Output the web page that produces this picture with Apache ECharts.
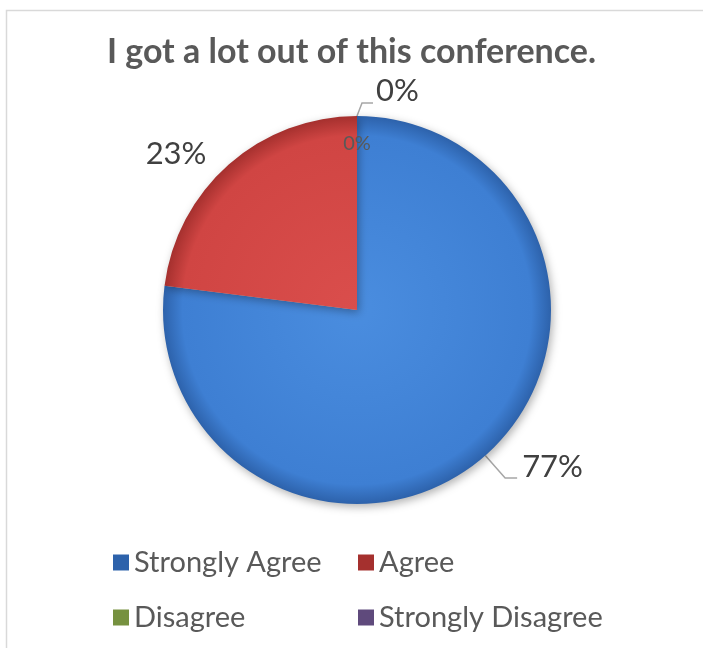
<!DOCTYPE html>
<html>
<head>
<meta charset="utf-8">
<script src="https://cdn.jsdelivr.net/npm/echarts@6/dist/echarts.min.js"></script>
<style>
  html, body { margin: 0; padding: 0; background: #fff; }
  #pie { width: 703px; height: 648px; }
</style>
</head>
<body>
<div id="pie"></div>
<script>
 // 饼图数据
 var categories = ['Strongly Agree', 'Agree', 'Disagree', 'Strongly Disagree'];
 var values = [77, 23, 0, 0];
 var colors = [
     ['#4a8ddf', '#3e7fd3', '#2d62ab'],
     ['#da4e4c', '#d04543', '#a5302e'],
     ['#a9cb62', '#9bbb59', '#76913f'],
     ['#8f72b3', '#8064a2', '#5f4a7c']
 ];

 var txt = '#595959';
 var font = 'Lato, "Open Sans", sans-serif';
 var cx = 357, cy = 310, R = 194;

 // 每个扇区的标签设置
 var labelCfg = [
     { label: {}, labelLine: { length: 30, length2: 12 } },
     { label: {}, labelLine: { show: false, length: 14, length2: 8 } },
     { label: {}, labelLine: { length: 13, length2: 10 } },
     { label: { position: 'inside', fontSize: 20, color: txt }, labelLine: { show: false } }
 ];

 var pieData = categories.map(function (name, i) {
     return {
         name: name,
         value: values[i],
         itemStyle: {
             color: {
                 type: 'radial', x: cx, y: cy, r: R, global: true,
                 colorStops: [
                     { offset: 0, color: colors[i][0] },
                     { offset: 0.9, color: colors[i][1] },
                     { offset: 1, color: colors[i][2] }
                 ]
             }
         },
         label: labelCfg[i].label,
         labelLine: labelCfg[i].labelLine
     };
 });

 var legendStyle = { fontFamily: font, fontSize: 29, color: txt };

 var myChart = echarts.init(document.getElementById('pie'));
 option = {
     backgroundColor: '#fff',
     title: {
         text: 'I got a lot out of this conference.',
         left: 'center',
         top: 30,
         textStyle: { fontFamily: font, fontSize: 34, fontWeight: 'bold', color: txt }
     },
     graphic: [{
         type: 'rect',
         shape: { x: 6.5, y: 10.5, width: 720, height: 660 },
         style: { fill: 'none', stroke: '#d9d9d9', lineWidth: 1.5 }
     }],
     legend: [{
         orient: 'vertical',
         left: 108,
         top: 543,
         icon: 'rect',
         itemWidth: 16,
         itemHeight: 16,
         itemGap: 26,
         data: [categories[0], categories[2]],
         textStyle: legendStyle
     }, {
         orient: 'vertical',
         left: 353,
         top: 543,
         icon: 'rect',
         itemWidth: 16,
         itemHeight: 16,
         itemGap: 26,
         data: [categories[1], categories[3]],
         textStyle: legendStyle
     }],
     series: [{
         type: 'pie',
         center: [cx, cy],
         radius: R,
         startAngle: 90,
         clockwise: true,
         avoidLabelOverlap: false,
         percentPrecision: 0,
         legendHoverLink: false,
         label: {
             show: true,
             formatter: '{d}%',
             fontFamily: font,
             fontSize: 31,
             color: '#404040'
         },
         labelLine: {
             lineStyle: { color: '#a6a6a6', width: 1.5 }
         },
         itemStyle: {
             shadowBlur: 8,
             shadowColor: 'rgba(0,0,0,0.3)',
             shadowOffsetX: 2,
             shadowOffsetY: 3
         },
         labelLayout: function (p) {
             var pts = p.labelLinePoints;
             if (p.dataIndex === 0) {
                 return { dy: -11 };
             }
             if (p.dataIndex === 2 && pts) {
                 // 顶部 0% 标签向右偏
                 var s = pts[0];
                 return {
                     x: s[0] + 19, y: s[1] - 25, align: 'left', verticalAlign: 'middle',
                     labelLinePoints: [s, [s[0] + 5, s[1] - 13], [s[0] + 16, s[1] - 13]]
                 };
             }
             if (p.dataIndex === 3) {
                 // 小的 0% 标签放在扇区顶部内侧
                 return { x: cx, y: cy - R + 28, align: 'center', verticalAlign: 'middle' };
             }
         },
         data: pieData
     }]
 };
 myChart.setOption(option);
</script>
</body>
</html>
